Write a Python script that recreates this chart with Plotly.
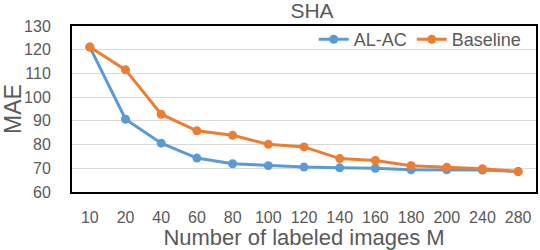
import plotly.graph_objects as go

categories = ["10", "20", "40", "60", "80", "100", "120", "140", "160", "180", "200", "240", "280"]
al_ac = [121.1, 90.7, 80.6, 74.3, 71.9, 71.1, 70.5, 70.2, 70.0, 69.4, 69.4, 69.3, 68.6]
baseline = [121.1, 111.5, 92.8, 85.8, 83.9, 80.1, 79.0, 74.1, 73.3, 71.1, 70.4, 69.8, 68.6]
y_ticks = [60, 70, 80, 90, 100, 110, 120, 130]

FONT = "Arial, Liberation Sans, sans-serif"
GREY = "#595959"

fig = go.Figure()
fig.add_trace(go.Scatter(x=categories, y=al_ac, name="AL-AC", mode="lines+markers",
                         line=dict(color="#5B9BD5", width=3),
                         marker=dict(color="#5B9BD5", size=9)))
fig.add_trace(go.Scatter(x=categories, y=baseline, name="Baseline", mode="lines+markers",
                         line=dict(color="#ED7D31", width=3),
                         marker=dict(color="#ED7D31", size=9)))

fig.update_layout(
    width=540, height=250,
    margin=dict(l=72, r=2, t=26, b=57, pad=0),
    paper_bgcolor="white", plot_bgcolor="white",
    font=dict(family=FONT, color=GREY),
    title=dict(text="SHA", font=dict(size=21, color=GREY), x=312/540, xref="container",
               xanchor="center", y=1 - 11/250, yref="container", yanchor="middle"),
    showlegend=True,
    legend=dict(orientation="h", x=0.98, xanchor="right", y=1.03, yanchor="top",
                bgcolor="rgba(0,0,0,0)", font=dict(size=18, color=GREY),
                itemwidth=30, tracegroupgap=0),
    xaxis=dict(type="category", range=[-0.5, 12.5], showgrid=False,
               showline=True, linecolor="#000000", linewidth=2, mirror=True,
               ticks="", tickfont=dict(size=16, color=GREY), ticklabelstandoff=10,
               title=dict(text="Number of labeled images M", font=dict(size=22, color=GREY), standoff=6)),
    yaxis=dict(range=[60, 130], tickvals=y_ticks, showgrid=True, gridcolor="#D9D9D9", gridwidth=1,
               showline=True, linecolor="#000000", linewidth=2, mirror=True, zeroline=False,
               ticks="", tickfont=dict(size=16, color=GREY), ticklabelstandoff=16,
               title=dict(text="MAE", font=dict(size=23, color=GREY), standoff=4)),
)

fig.write_html("out.html", config={"displayModeBar": False},
               post_script="document.body.style.margin='0';document.body.style.overflow='hidden';")
